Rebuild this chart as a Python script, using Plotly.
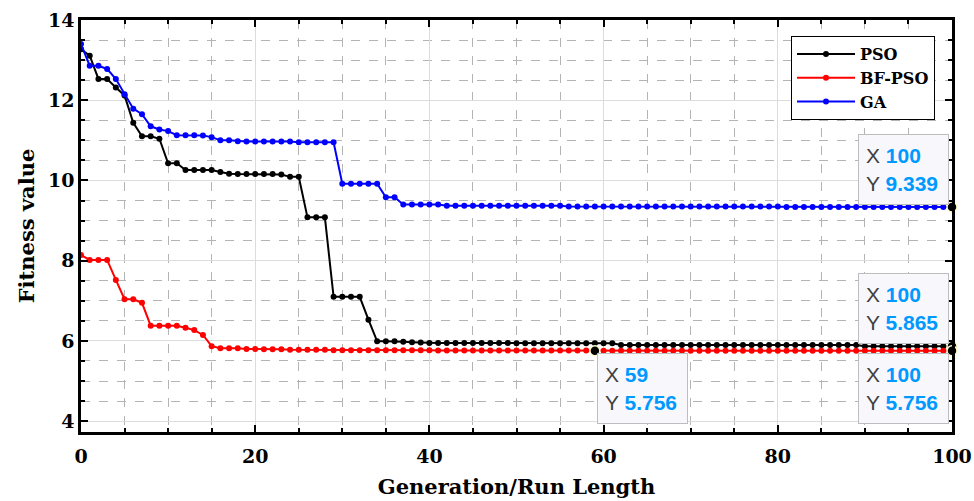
import plotly.graph_objects as go

# Generations 0..100
generation = list(range(101))

pso = ([13.27, 13.11, 12.53, 12.53, 12.32, 12.12, 11.44, 11.10, 11.10, 11.04,
        10.43, 10.43, 10.26, 10.26, 10.26, 10.26, 10.21, 10.17, 10.16, 10.16,
        10.16, 10.16, 10.16, 10.15, 10.09, 10.09, 9.08, 9.08, 9.08, 7.10,
        7.10, 7.10, 7.10, 6.53, 5.99, 5.99, 5.99, 5.98, 5.97, 5.96]
       + [5.95] * 10 + [5.94] * 12 + [5.90] * 28 + [5.87] * 10 + [5.865])

bf_pso = ([8.14, 8.02, 8.02, 8.02, 7.52, 7.04, 7.04, 6.95, 6.38, 6.38,
           6.38, 6.38, 6.33, 6.27, 6.15, 5.87, 5.82, 5.82, 5.82, 5.80,
           5.80, 5.79, 5.79, 5.79]
          + [5.78] * 5 + [5.77] * 12 + [5.76] * 18 + [5.756] * 42)

ga = ([13.40, 12.86, 12.86, 12.78, 12.53, 12.15, 11.79, 11.65, 11.35, 11.27,
       11.23, 11.13, 11.13, 11.13, 11.12, 11.08, 11.00, 11.00, 10.98]
      + [10.97] * 6 + [10.95] * 5 + [9.92] * 5 + [9.58] * 2 + [9.40] * 5
      + [9.37] * 14 + [9.35] * 25 + [9.34] * 19 + [9.339])

series = [("PSO", pso, "#000000"), ("BF-PSO", bf_pso, "#ff0000"), ("GA", ga, "#0000ff")]

# Data tips: (series, generation index, box placement)
tips = [(ga, 100, "above"), (pso, 100, "above"), (bf_pso, 59, "below-right"), (bf_pso, 100, "below")]

x_ticks = [0, 20, 40, 60, 80, 100]
y_ticks = [4, 6, 8, 10, 12, 14]

serif = "DejaVu Serif, Liberation Serif, serif"

fig = go.Figure()
for name, vals, color in series:
    fig.add_trace(go.Scatter(
        x=generation, y=vals, name=name, mode="lines+markers",
        line=dict(color=color, width=2),
        marker=dict(color=color, size=6),
    ))

fig.add_trace(go.Scatter(
    x=[generation[i] for _, i, _ in tips],
    y=[s[i] for s, i, _ in tips],
    mode="markers", showlegend=False, hoverinfo="skip", cliponaxis=False,
    marker=dict(color="#000000", size=10, line=dict(color="#ffffd0", width=1.5)),
))

val_color = "#0099ff"
for s, i, place in tips:
    txt = (f"X <b><span style='color:{val_color}'>{generation[i]}</span></b><br>"
           f"Y <b><span style='color:{val_color}'>{s[i]:.3f}</span></b>")
    if place == "above":
        xa, ya, xs, ys = "right", "bottom", -3, 2
    elif place == "below":
        xa, ya, xs, ys = "right", "top", -3, -2
    else:
        xa, ya, xs, ys = "left", "top", 2, -2
    fig.add_annotation(
        x=generation[i], y=s[i], xref="x", yref="y", text=txt, showarrow=False,
        xanchor=xa, yanchor=ya, xshift=xs, yshift=ys,
        align="left", valign="middle", width=75, height=55, borderpad=7,
        bgcolor="#f8f8fc", bordercolor="#bdbdbd", borderwidth=1,
        font=dict(family="Liberation Sans, Arial, sans-serif", size=21, color="#404040"),
    )

axis_common = dict(
    showline=True, linecolor="#000000", linewidth=2.5, mirror="ticks",
    ticks="inside", ticklen=7, tickwidth=2, tickcolor="#000000",
    showgrid=True, gridcolor="#dcdcdc", gridwidth=1,
    zeroline=False, automargin=False,
    tickfont=dict(family=serif, size=19, color="#000000", weight="bold"),
)

minor_grid = dict(ticks="inside", ticklen=4, tickcolor="#000000", tickwidth=1.5,
                  showgrid=True, gridcolor="#b4b4b4", griddash="dash", gridwidth=1)

fig.update_xaxes(
    **axis_common, range=[0, 100], tickvals=x_ticks, ticklabelstandoff=5,
    minor=dict(dtick=5, **minor_grid),
    title=dict(text="<b>Generation/Run Length</b>", font=dict(family=serif, size=21, color="#000000"),
               standoff=14),
)
fig.update_yaxes(
    **axis_common, range=[3.73, 14], tickvals=y_ticks,
    minor=dict(dtick=0.5, **minor_grid),
    title=dict(text="<b>Fitness value</b>", font=dict(family=serif, size=21, color="#000000"),
               standoff=8),
)

fig.update_layout(
    width=974, height=501,
    margin=dict(l=81, r=22, t=20, b=69),
    paper_bgcolor="#ffffff", plot_bgcolor="#ffffff",
    legend=dict(
        x=0.9805, y=0.961, xanchor="right", yanchor="top",
        bgcolor="#ffffff", bordercolor="#000000", borderwidth=1,
        font=dict(family=serif, size=16, color="#000000", weight="bold"),
        tracegroupgap=0, itemwidth=58,
    ),
    showlegend=True,
)

fig.write_html("out.html")
